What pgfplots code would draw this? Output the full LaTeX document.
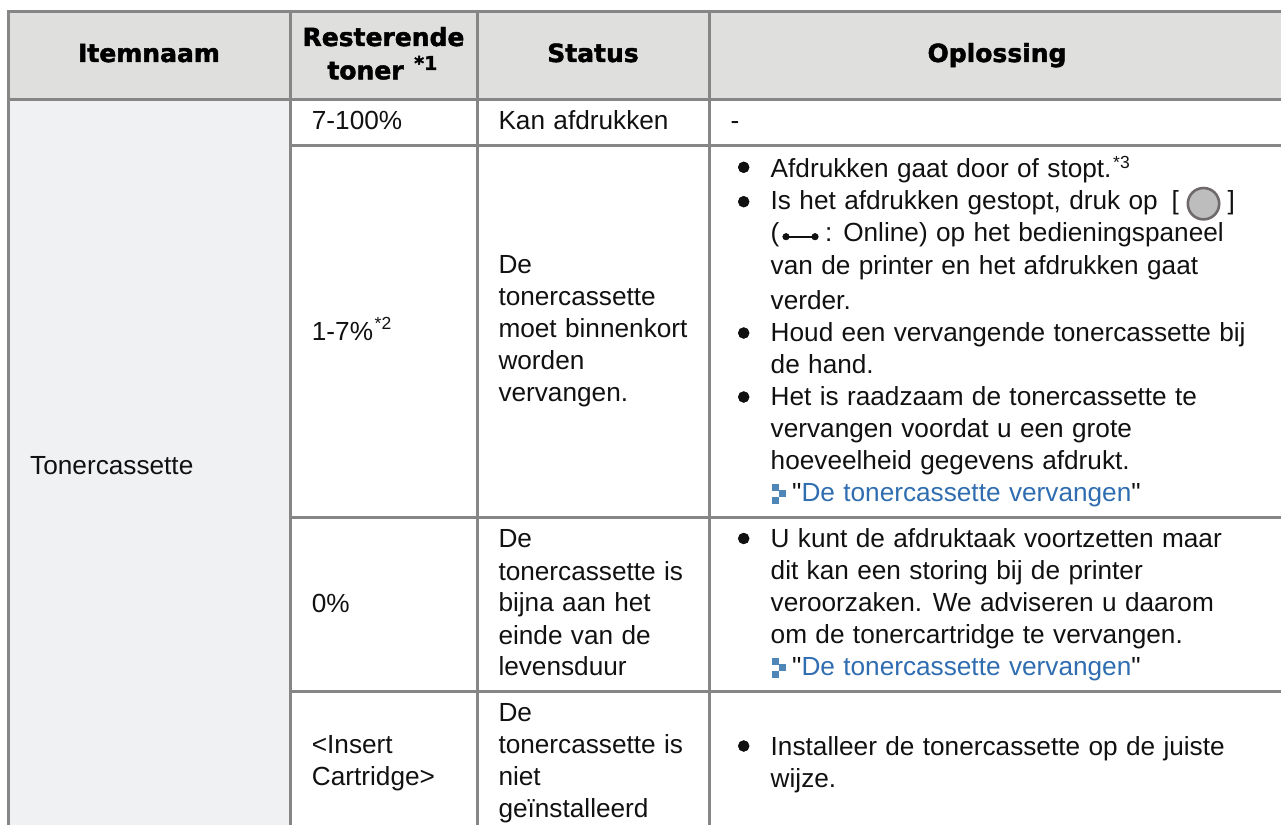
\documentclass[border=0pt]{standalone}
\usepackage{pgfplots}
\pgfplotsset{compat=1.18}
\usepackage{fontspec}
\setmainfont{Liberation Sans}[WordSpace=1.15]
\newfontfamily\plainf{Liberation Sans}
\newfontfamily\hdfont{DejaVu Sans}[BoldFeatures={FakeBold=1.8}]
\definecolor{rule}{HTML}{868686}
\definecolor{headbg}{HTML}{DFDFDE}
\definecolor{colbg}{HTML}{F0F1F3}
\definecolor{ink}{HTML}{111111}
\definecolor{linkc}{HTML}{2F6DB0}
\definecolor{arrowc}{HTML}{4F86B8}
\definecolor{btnfill}{HTML}{BDBDBD}
\definecolor{btnring}{HTML}{6F6A6A}
\newcommand{\body}{\fontsize{26.2bp}{32bp}\selectfont}
\newcommand{\sups}{\fontsize{17.5bp}{20bp}\selectfont}
\newcommand{\head}{\fontsize{25bp}{32bp}\selectfont\hdfont\bfseries}
\newcommand{\T}[3]{\node[anchor=base west,inner sep=0pt,text=ink] at (axis cs:#1,#2) {\body #3};}
\newcommand{\Hd}[3]{\node[anchor=base,inner sep=0pt,text=black] at (axis cs:#1,#2) {\head #3};}
\newcommand{\Sp}[3]{\node[anchor=base west,inner sep=0pt,text=ink] at (axis cs:#1,#2) {\sups #3};}
\newcommand{\Q}{{\plainf"}}
\begin{document}
\begin{tikzpicture}
\useasboundingbox (0,0) rectangle (1281bp,825bp);
\begin{axis}[
  at={(0,0)},anchor=south west,
  width=1281bp,height=825bp,scale only axis,
  xmin=0,xmax=1281,ymin=0,ymax=825,y dir=reverse,
  hide axis,clip=true]
% fills
\addplot[fill=headbg,draw=none] coordinates {(8.5,11.5) (1281,11.5) (1281,99.5) (8.5,99.5)} -- cycle;
\addplot[fill=colbg,draw=none] coordinates {(8.5,99.5) (290.5,99.5) (290.5,825) (8.5,825)} -- cycle;
% rules
\addplot[rule,line width=3bp] coordinates {(8.5,10) (8.5,825)};
\addplot[rule,line width=3bp] coordinates {(290.5,11.5) (290.5,825)};
\addplot[rule,line width=3bp] coordinates {(477.3,11.5) (477.3,825)};
\addplot[rule,line width=3bp] coordinates {(709.6,11.5) (709.6,825)};
\addplot[rule,line width=3bp] coordinates {(7,11.5) (1281,11.5)};
\addplot[rule,line width=3bp] coordinates {(7,99.5) (1281,99.5)};
\addplot[rule,line width=3bp] coordinates {(290.5,145.5) (1281,145.5)};
\addplot[rule,line width=3bp] coordinates {(290.5,517.5) (1281,517.5)};
\addplot[rule,line width=3bp] coordinates {(290.5,691) (1281,691)};
% bullets
\addplot[only marks,mark=*,mark size=5.5bp,mark options={fill=ink,draw=none}] coordinates {
 (743.7,167.3) (743.7,201.7) (743.7,333) (743.7,397) (743.7,538.5) (743.7,746)};
% power button icon and online icon
\addplot[only marks,mark=*,mark size=15.7bp,mark options={fill=btnfill,draw=btnring,line width=2.6bp}] coordinates {(1203.5,203.7)};
\addplot[ink,line width=1.6bp] coordinates {(786,236.7) (815,236.7)};
\addplot[only marks,mark=*,mark size=3.3bp,mark options={fill=ink,draw=none}] coordinates {(786,236.7) (815,236.7)};
% link arrows
\addplot[only marks,color=arrowc,mark=square*,mark size=3bp,mark options={fill=arrowc,draw=arrowc,line width=0pt}] coordinates {
 (775,487) (782,493.5) (775,500) (775,661) (782,667.5) (775,674)};
% header
\Hd{149}{62}{Itemnaam}
\Hd{383.5}{46}{Resterende}
\Hd{365.5}{79.3}{toner}
\node[anchor=base west,inner sep=0pt] at (axis cs:414,70) {\fontsize{19bp}{20bp}\selectfont\hdfont\bfseries *1};
\Hd{593}{62}{Status}
\Hd{997}{62}{Oplossing}
% col 1
\T{30}{474}{Tonercassette}
% col 2
\T{311.7}{130}{7-100\%}
\T{311.7}{340}{1-7\%}
\Sp{374.5}{329}{*2}
\T{311.7}{612}{0\%}
\T{311.7}{753}{<Insert}
\T{311.7}{785}{Cartridge>}
% col 3
\T{498.3}{130}{Kan afdrukken}
\T{498.3}{273.5}{De}
\T{498.3}{305.5}{tonercassette}
\T{498.3}{337.5}{moet binnenkort}
\T{498.3}{369.5}{worden}
\T{498.3}{401.5}{vervangen.}
\T{498.3}{547.3}{De}
\T{498.3}{580}{tonercassette is}
\T{498.3}{611.7}{bijna aan het}
\T{498.3}{644}{einde van de}
\T{498.3}{675.7}{levensduur}
\T{498.3}{721}{De}
\T{498.3}{753.3}{tonercassette is}
\T{498.3}{785.7}{niet}
\T{498.3}{817.3}{geïnstalleerd}
% col 4
\T{730.5}{130}{-}
\T{770.5}{177}{Afdrukken gaat door of stopt.}
\Sp{1113}{168}{*3}
\T{770.5}{209.5}{Is het afdrukken gestopt, druk op}
\T{1171.5}{209.5}{[}
\T{1227.5}{209.5}{]}
\T{770.5}{241.5}{(}
\T{825}{241.5}{: Online) op het bedieningspaneel}
\T{770.5}{274}{van de printer en het afdrukken gaat}
\T{770.5}{309}{verder.}
\T{770.5}{341.5}{Houd een vervangende tonercassette bij}
\T{770.5}{373.5}{de hand.}
\T{770.5}{405.5}{Het is raadzaam de tonercassette te}
\T{770.5}{437.5}{vervangen voordat u een grote}
\T{770.5}{469.5}{hoeveelheid gegevens afdrukt.}
\T{792}{501.5}{\Q\textcolor{linkc}{De tonercassette vervangen}\Q}
\T{770.5}{547.5}{U kunt de afdruktaak voortzetten maar}
\T{770.5}{579.5}{dit kan een storing bij de printer}
\T{770.5}{611.5}{veroorzaken. We adviseren u daarom}
\T{770.5}{643.5}{om de tonercartridge te vervangen.}
\T{792}{675.5}{\Q\textcolor{linkc}{De tonercassette vervangen}\Q}
\T{770.5}{755}{Installeer de tonercassette op de juiste}
\T{770.5}{787}{wijze.}
\end{axis}
\end{tikzpicture}
\end{document}
